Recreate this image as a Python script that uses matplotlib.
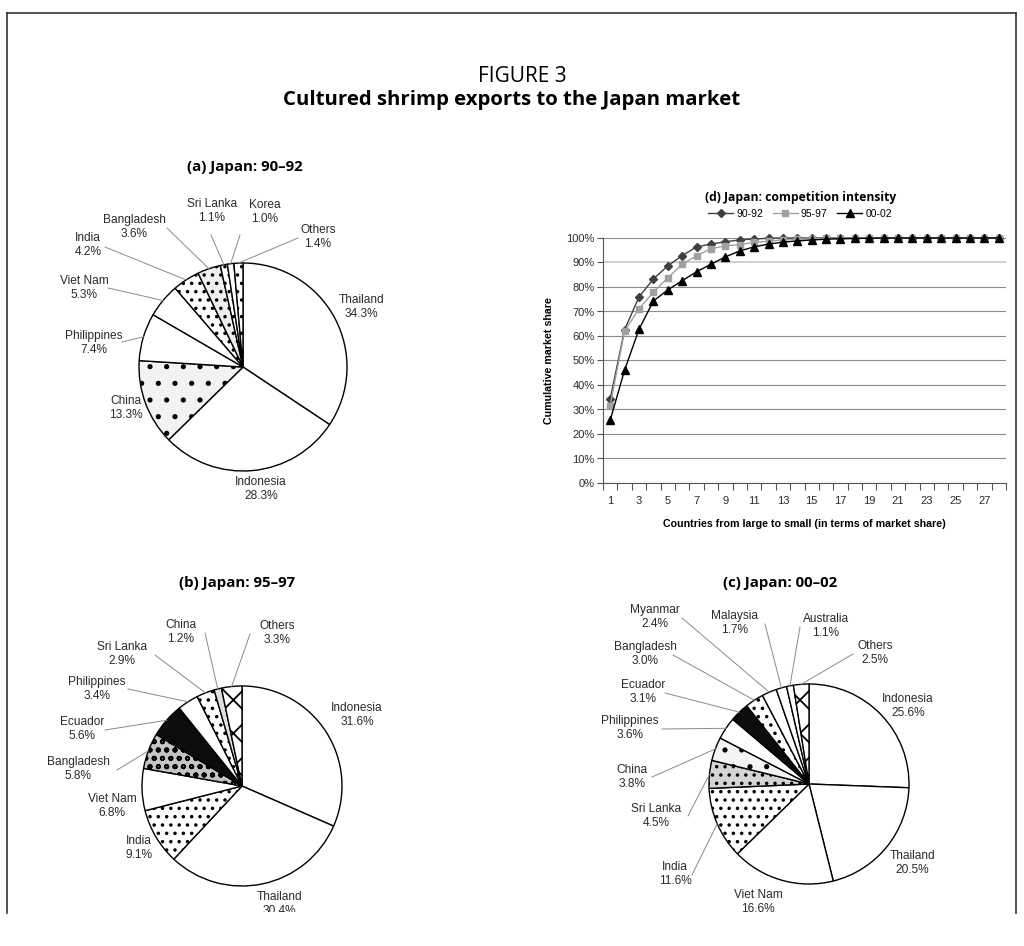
import numpy as np
import matplotlib
matplotlib.use("Agg")
import matplotlib.pyplot as plt
from matplotlib.patches import Rectangle
from matplotlib.lines import Line2D

# Figure size in pixels (dpi 100)
W, H = 1024, 946

# (a) Japan: 90-92, clockwise from 12 o'clock
a_countries = ["Thailand", "Indonesia", "China", "Philippines", "Viet Nam",
               "India", "Bangladesh", "Sri Lanka", "Korea", "Others"]
a_shares = [34.3, 28.3, 13.3, 7.4, 5.3, 4.2, 3.6, 1.1, 1.0, 1.4]

# (b) Japan: 95-97
b_countries = ["Indonesia", "Thailand", "India", "Viet Nam", "Bangladesh",
               "Ecuador", "Philippines", "Sri Lanka", "China", "Others"]
b_shares = [31.6, 30.4, 9.1, 6.8, 5.8, 5.6, 3.4, 2.9, 1.2, 3.3]

# (c) Japan: 00-02
c_countries = ["Indonesia", "Thailand", "Viet Nam", "India", "Sri Lanka", "China",
               "Philippines", "Ecuador", "Bangladesh", "Myanmar", "Malaysia",
               "Australia", "Others"]
c_shares = [25.6, 20.5, 16.6, 11.6, 4.5, 3.8, 3.6, 3.1, 3.0, 2.4, 1.7, 1.1, 2.5]

# (d) cumulative market share by country rank
rank = list(range(1, 29))
cum_9092 = [34.3, 62.6, 75.9, 83.3, 88.6, 92.8, 96.4, 97.5, 98.5, 99.2, 99.6, 99.9,
            100, 100, 100, 100, 100, 100, 100, 100, 100, 100, 100, 100, 100, 100, 100, 100]
cum_9597 = [31.6, 62.0, 71.1, 77.9, 83.7, 89.3, 92.7, 95.6, 96.8, 97.3, 98.2, 98.7,
            99.2, 99.5, 99.7, 99.8, 99.9, 100, 100, 100, 100, 100, 100, 100, 100, 100, 100, 100]
cum_0002 = [25.6, 46.1, 62.7, 74.3, 78.8, 82.6, 86.2, 89.3, 92.3, 94.7, 96.4, 97.5,
            98.3, 98.8, 99.2, 99.5, 99.7, 99.8, 99.9, 100, 100, 100, 100, 100, 100, 100, 100, 100]
tick_labels = [str(i) for i in range(1, 28, 2)]

plt.rcParams['font.family'] = ['Liberation Sans', 'DejaVu Sans']
plt.rcParams['hatch.linewidth'] = 1.3
TITLE_FONT = ['Open Sans', 'DejaVu Sans']

fig = plt.figure(figsize=(W / 100, H / 100), dpi=100)


def px_axes(x0, y0, x1, y1):
    return fig.add_axes([x0 / W, 1 - y1 / H, (x1 - x0) / W, (y1 - y0) / H])


def fig_text(x, y, s, **kw):
    fig.text(x / W, 1 - y / H, s, ha='center', va='center', **kw)


def draw_pie(cx, cy, R, names, shares, faces, hatches, labels):
    ax = px_axes(cx - R, cy - R, cx + R, cy + R)
    wedges, _ = ax.pie(shares, startangle=90, counterclock=False, radius=1,
                       wedgeprops=dict(edgecolor='black', linewidth=1.0))
    for w, fc, h in zip(wedges, faces, hatches):
        w.set_facecolor(fc)
        if h:
            w.set_hatch(h)
    ax.set_xlim(-1, 1)
    ax.set_ylim(-1, 1)
    ax.axis('off')
    total = sum(shares)
    before = np.cumsum([0] + list(shares[:-1]))
    for name, v, b0, (tx, ty, lead) in zip(names, shares, before, labels):
        ax.text((tx - cx) / R, -(ty - cy) / R, f"{name}\n{v:.1f}%",
                ha='center', va='center', fontsize=8.6, color='#2a2a2a',
                linespacing=1.2)
        if lead is not None:
            ang = np.deg2rad(90 - 360 * (b0 + v / 2) / total)
            ex, ey = np.cos(ang), np.sin(ang)
            lx, ly = (lead[0] - cx) / R, -(lead[1] - cy) / R
            ax.plot([ex, lx], [ey, ly], color='#8a8a8a', lw=0.7, clip_on=False)
    return ax


# label centres and leader ends, in pixels
a_labels = [(361, 307, None), (261, 489, None), (126, 408, None),
            (94, 343, (122, 342)), (84, 288, (108, 288)), (88, 245, (105, 247)),
            (134, 227, (167, 228)), (212, 211, (211, 235)), (265, 212, (240, 235)),
            (318, 237, (298, 238))]
b_labels = [(357, 715, None), (279, 904, None), (139, 848, None), (112, 806, None),
            (78, 769, (117, 770)), (82, 729, (105, 730)), (97, 689, (128, 689)),
            (122, 654, (155, 655)), (181, 632, (205, 633)), (277, 633, (250, 634))]
c_labels = [(908, 706, None), (912, 863, None), (758, 902, None),
            (675, 874, (692, 875)), (656, 816, (688, 816)), (632, 777, (652, 777)),
            (630, 728, (662, 729)), (643, 692, (665, 693)), (645, 654, (673, 655)),
            (655, 617, (682, 618)), (735, 623, (765, 624)), (826, 626, (800, 627)),
            (875, 653, (853, 654))]

a_faces = ['white', 'white', '#f2f2f2', 'white', 'white', 'white', '#eeeeee', 'white', 'white', 'white']
a_hatch = [None, None, '.', None, None, '..', '..', '..', None, '..']
b_faces = ['white', 'white', 'white', 'white', '#c4c4c4', '#0c0c0c', 'white', 'white', '#e0e0e0', 'white']
b_hatch = [None, None, '..', None, 'oo', None, None, '..', None, 'x']
c_faces = ['white', 'white', 'white', 'white', '#d4d4d4', '#f4f4f4', 'white', '#0c0c0c',
           'white', 'white', 'white', 'white', 'white']
c_hatch = [None, None, None, '..', '..', '.', None, None, '..', None, None, None, 'x']

draw_pie(243, 367, 104, a_countries, a_shares, a_faces, a_hatch, a_labels)
draw_pie(242, 786, 100, b_countries, b_shares, b_faces, b_hatch, b_labels)
draw_pie(809, 784, 100, c_countries, c_shares, c_faces, c_hatch, c_labels)

# competition intensity line chart
ax = px_axes(603, 238, 1006, 483)
ax.plot(rank, cum_9092, color='#404040', marker='D', ms=3.6, lw=1.0, label='90-92', clip_on=False)
ax.plot(rank, cum_9597, color='#a0a0a0', marker='s', ms=5, lw=1.0, label='95-97', clip_on=False)
ax.plot(rank, cum_0002, color='black', marker='^', ms=5.5, lw=1.0, label='00-02', clip_on=False)
ax.set_xlim(0.5, 28.5)
ax.set_ylim(0, 100)
ax.set_yticks(range(0, 101, 10))
ax.set_yticklabels([f"{v}%" for v in range(0, 101, 10)], fontsize=8, color='#2a2a2a')
ax.set_xticks(range(1, 28, 2))
ax.set_xticklabels(tick_labels, fontsize=8, color='#2a2a2a')
ax.set_xticks(np.arange(0.5, 28.6, 1), minor=True)
ax.tick_params(axis='x', which='major', length=0, pad=9)
ax.tick_params(axis='x', which='minor', length=5, width=0.8, color='#555555', direction='out')
ax.tick_params(axis='y', length=4, width=0.8, color='#555555', pad=2)
ax.yaxis.grid(True, color='#8c8c8c', lw=0.8)
ax.get_ygridlines()[9].set_color('#cfcfcf')
ax.get_ygridlines()[9].set_linewidth(1.4)
ax.set_axisbelow(True)
for s in ['top', 'right']:
    ax.spines[s].set_visible(False)
for s in ['left', 'bottom']:
    ax.spines[s].set_color('#555555')
    ax.spines[s].set_linewidth(0.8)
ax.set_xlabel("Countries from large to small (in terms of market share)",
              fontsize=7.7, fontweight='bold', labelpad=10)
ax.set_ylabel("Cumulative market share", fontsize=7.7, fontweight='bold', labelpad=9)
ax.legend(loc='center', bbox_to_anchor=(0.489, 1.098), ncol=3, frameon=False,
          fontsize=7.5, handlelength=2.4, columnspacing=0.9, handletextpad=0.3)

# titles
fig_text(522, 77, "FIGURE 3", fontsize=15, family=TITLE_FONT)
fig_text(512, 100, "Cultured shrimp exports to the Japan market", fontsize=14.7,
         fontweight='bold', family=TITLE_FONT)
fig_text(245, 167, "(a) Japan: 90\u201392", fontsize=10.8, fontweight='bold', family=TITLE_FONT)
fig_text(801, 197, "(d) Japan: competition intensity", fontsize=8.7, fontweight='bold', family=TITLE_FONT)
fig_text(237, 583, "(b) Japan: 95\u201397", fontsize=10.8, fontweight='bold', family=TITLE_FONT)
fig_text(780, 583, "(c) Japan: 00\u201302", fontsize=10.8, fontweight='bold', family=TITLE_FONT)

# lower edge of the panel cuts the bottom labels
fig.add_artist(Rectangle((0, 0), 1, (H - 912) / H, transform=fig.transFigure,
                         facecolor='white', edgecolor='none', zorder=10))

# frame
frame = dict(transform=fig.transFigure, color='#333333', lw=1.2, zorder=11)
fig.add_artist(Line2D([7 / W, 7 / W], [1 - 13 / H, 1 - 913 / H], **frame))
fig.add_artist(Line2D([7 / W, 1016 / W], [1 - 13 / H, 1 - 13 / H], **frame))
fig.add_artist(Line2D([1016 / W, 1016 / W], [1 - 13 / H, 1 - 913 / H], **frame))

fig.savefig("out.png", dpi=100, facecolor='white')
